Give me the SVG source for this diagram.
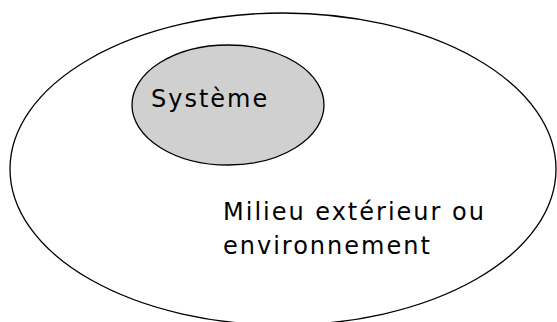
<svg xmlns="http://www.w3.org/2000/svg" width="557" height="322" viewBox="0 0 557 322">
<style>
.outline{stroke:#000;stroke-width:1.3}
.lbl{font-family:"DejaVu Sans","Liberation Sans",sans-serif;fill:#000;font-size:24px;letter-spacing:2px}
</style>
<rect width="557" height="322" fill="#fff"/>
<g id="milieu">
<ellipse class="outline" cx="283" cy="169" rx="273" ry="156" fill="#fff"/>
<text class="lbl" x="223" y="220">Milieu extérieur ou</text>
<text class="lbl" x="223" y="254">environnement</text>
</g>
<g id="systeme">
<ellipse class="outline" cx="228" cy="105" rx="96" ry="60" fill="#d0d0d0"/>
<text class="lbl" x="151" y="107">Système</text>
</g>
<g id="connectors"/>
</svg>
